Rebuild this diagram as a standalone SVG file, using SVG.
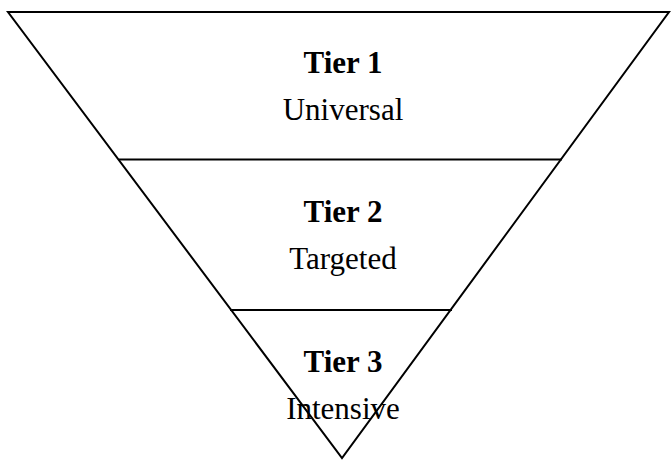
<svg xmlns="http://www.w3.org/2000/svg" width="671" height="460" viewBox="0 0 671 460">
  <style>
    .edge { stroke: #000; stroke-width: 2; fill: none; stroke-linecap: square; }
    .title { font-family: "Liberation Serif", "Times New Roman", serif; font-size: 31px; font-weight: bold; text-anchor: middle; fill: #000; }
    .sub { font-family: "Liberation Serif", "Times New Roman", serif; font-size: 31px; text-anchor: middle; fill: #000; }
  </style>
  <rect width="671" height="460" fill="#fff"/>
  <g id="connectors">
    <!-- outer inverted triangle -->
    <polygon class="edge" points="8,12 669,12 342,458" stroke-linejoin="miter"/>
    <!-- tier dividers -->
    <line class="edge" x1="120" y1="159.5" x2="561" y2="159.5"/>
    <line class="edge" x1="231" y1="310" x2="451" y2="310"/>
  </g>
  <g id="tier1">
    <text class="title" x="343" y="73">Tier 1</text>
    <text class="sub" x="343" y="120">Universal</text>
  </g>
  <g id="tier2">
    <text class="title" x="343" y="222">Tier 2</text>
    <text class="sub" x="343" y="269">Targeted</text>
  </g>
  <g id="tier3">
    <text class="title" x="343" y="372">Tier 3</text>
    <text class="sub" x="343" y="419">Intensive</text>
  </g>
</svg>
